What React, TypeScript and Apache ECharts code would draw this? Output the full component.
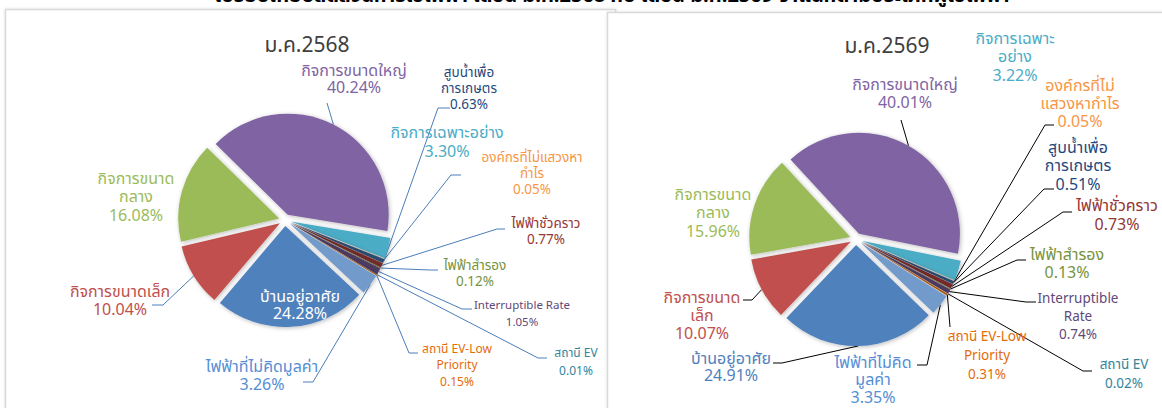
import React, { useEffect, useRef } from "react";
import * as echarts from "echarts";

// ---------- data ----------
const categories = [
  "บ้านอยู่อาศัย",
  "กิจการขนาดเล็ก",
  "กิจการขนาดกลาง",
  "กิจการขนาดใหญ่",
  "กิจการเฉพาะอย่าง",
  "องค์กรที่ไม่แสวงหากำไร",
  "สูบน้ำเพื่อการเกษตร",
  "ไฟฟ้าชั่วคราว",
  "ไฟฟ้าสำรอง",
  "Interruptible Rate",
  "สถานี EV",
  "สถานี EV-Low Priority",
  "ไฟฟ้าที่ไม่คิดมูลค่า",
];
const values2568 = [24.28, 10.04, 16.08, 40.24, 3.3, 0.05, 0.63, 0.77, 0.12, 1.05, 0.01, 0.15, 3.26];
const values2569 = [24.91, 10.07, 15.96, 40.01, 3.22, 0.05, 0.51, 0.73, 0.13, 0.74, 0.02, 0.31, 3.35];
const chartTitles = ["ม.ค.2568", "ม.ค.2569"];
const mainTitle = "เปรียบเทียบสัดส่วนการใช้ไฟฟ้า เดือน ม.ค.2568 กับ เดือน ม.ค.2569 จำแนกตามประเภทผู้ใช้ไฟฟ้า";

// ---------- styles / layout ----------
const FONT = "Tahoma, 'Noto Sans Thai', 'Noto Sans', sans-serif";
const sliceColors = ["#4F81BD", "#C0504D", "#9BBB59", "#8064A2", "#4BACC6", "#F79646", "#2C4D75", "#772C2A", "#5F7530", "#4D3B62", "#276A7C", "#B65708", "#729ACA"];
const labelColors = ["#4F81BD", "#C0504D", "#9BBB59", "#8064A2", "#4BACC6", "#F79646", "#1F497D", "#943634", "#77933C", "#5F497A", "#31859C", "#E46C0A", "#558ED5"];

// label text wrapping (display names) per chart
const wrap2568 = [
  "บ้านอยู่อาศัย", "กิจการขนาดเล็ก", "กิจการขนาด\nกลาง", "กิจการขนาดใหญ่", "กิจการเฉพาะอย่าง",
  "องค์กรที่ไม่แสวงหา\nกำไร", "สูบน้ำเพื่อ\nการเกษตร", "ไฟฟ้าชั่วคราว", "ไฟฟ้าสำรอง",
  "Interruptible Rate", "สถานี EV", "สถานี EV-Low\nPriority", "ไฟฟ้าที่ไม่คิดมูลค่า",
];
const wrap2569 = [
  "บ้านอยู่อาศัย", "กิจการขนาด\nเล็ก", "กิจการขนาด\nกลาง", "กิจการขนาดใหญ่", "กิจการเฉพาะ\nอย่าง",
  "องค์กรที่ไม่\nแสวงหากำไร", "สูบน้ำเพื่อ\nการเกษตร", "ไฟฟ้าชั่วคราว", "ไฟฟ้าสำรอง",
  "Interruptible\nRate", "สถานี EV", "สถานี EV-Low\nPriority", "ไฟฟ้าที่ไม่คิด\nมูลค่า",
];

type Lbl = { x: number; y: number; fs: number; lh: number; color?: string };

const layout2568: Lbl[] = [
  { x: 300, y: 305, fs: 16, lh: 17, color: "#FFFFFF" },
  { x: 120, y: 301, fs: 16, lh: 18 },
  { x: 136, y: 197, fs: 16, lh: 18.5 },
  { x: 354, y: 79, fs: 16, lh: 17 },
  { x: 447, y: 142, fs: 16, lh: 19 },
  { x: 532, y: 174, fs: 13.5, lh: 16 },
  { x: 469, y: 89, fs: 13.5, lh: 16 },
  { x: 546, y: 232, fs: 13.5, lh: 16 },
  { x: 475, y: 274, fs: 13.5, lh: 16.5 },
  { x: 522, y: 314, fs: 11.5, lh: 17 },
  { x: 576, y: 362, fs: 12, lh: 18 },
  { x: 457, y: 365, fs: 12, lh: 16.5 },
  { x: 262, y: 376, fs: 16, lh: 18 },
];
const lines2568: (number[][] | null)[] = [
  null, [[163, 305], [152, 305]], null, [[327, 103], [327, 103]], null,
  [[451, 175], [461, 175]], [[438, 108], [450, 108]], [[497, 229], [505, 229]], [[430, 270], [438, 270]],
  [[462, 309], [472, 309]], [[538, 358], [547, 358]], [[409, 353], [418, 353]], [[313, 382], [303, 382]],
];
const layout2569: Lbl[] = [
  { x: 731, y: 367, fs: 16, lh: 17 },
  { x: 702, y: 316, fs: 16, lh: 18 },
  { x: 713, y: 213, fs: 16, lh: 18.5 },
  { x: 905, y: 94, fs: 16, lh: 17.5 },
  { x: 1015, y: 57, fs: 16, lh: 18.5 },
  { x: 1080, y: 104, fs: 16, lh: 18 },
  { x: 1078, y: 166, fs: 16, lh: 18.5 },
  { x: 1117, y: 215, fs: 16, lh: 19 },
  { x: 1067, y: 264, fs: 16, lh: 18 },
  { x: 1078, y: 317, fs: 13.5, lh: 18 },
  { x: 1124, y: 374, fs: 13.5, lh: 19 },
  { x: 987, y: 356, fs: 13.5, lh: 19 },
  { x: 873, y: 380, fs: 16, lh: 17.5 },
];
const lines2569: (number[][] | null)[] = [
  [[782, 363], [773, 363]], [[752, 300], [743, 300]], null, [[901, 120], [901, 120]], null,
  [[1045, 125], [1054, 125]], [[1044, 189], [1054, 189]], [[1063, 212], [1072, 212]], [[1017, 260], [1026, 260]],
  [[1026, 302], [1036, 302]], [[1083, 371], [1092, 371]], [[950, 327], [950, 327]], [[927, 365], [917, 365]],
];

type PieCfg = {
  cx: number; cy: number; r: number; explode: number; startCW: number; lineColor: string;
  wrap: string[]; layout: Lbl[]; lines: (number[][] | null)[];
};

function buildPie(values: number[], cfg: PieCfg, idPrefix: string) {
  const total = values.reduce((a, b) => a + b, 0);
  let cum = 0;
  return values.map((v, k) => {
    const midCW = cfg.startCW + (360 * (cum + v / 2)) / total;
    cum += v;
    const rad = (midCW * Math.PI) / 180;
    const dx = Math.sin(rad);
    const dy = -Math.cos(rad);
    const center = [cfg.cx + cfg.explode * dx, cfg.cy + cfg.explode * dy];
    const edge = [cfg.cx + (cfg.r + cfg.explode) * dx, cfg.cy + (cfg.r + cfg.explode) * dy];
    const lbl = cfg.layout[k];
    const line = cfg.lines[k];
    return {
      id: idPrefix + k,
      type: "pie",
      center,
      radius: cfg.r,
      startAngle: 90 - cfg.startCW,
      clockwise: true,
      silent: true,
      avoidLabelOverlap: false,
      z: 2,
      data: values.map((val, i) => ({
        name: categories[i],
        value: val,
        itemStyle:
          i === k
            ? { color: sliceColors[i], shadowBlur: 4, shadowColor: "rgba(0,0,0,0.28)", shadowOffsetX: 1, shadowOffsetY: 1 }
            : { color: "rgba(0,0,0,0)" },
        label: {
          show: i === k,
          position: "outside",
          formatter: () => `${cfg.wrap[i]}\n${val.toFixed(2)}%`,
          color: lbl.color || labelColors[i],
          fontSize: lbl.fs,
          lineHeight: lbl.lh,
          fontFamily: FONT,
          align: "center",
        },
        labelLine: { show: i === k && !!line, lineStyle: { color: cfg.lineColor, width: 1 }, smooth: false },
      })),
      labelLayout: (p: any) =>
        p.dataIndex === k
          ? {
              x: lbl.x,
              y: lbl.y,
              align: "center",
              verticalAlign: "middle",
              labelLinePoints: line ? [edge, ...line] : undefined,
            }
          : {},
    };
  });
}

export default function App() {
  const ref = useRef<HTMLDivElement>(null);
  useEffect(() => {
    if (!ref.current) return;
    const chart = echarts.init(ref.current, null, { renderer: "svg" });
    const left = buildPie(values2568, { cx: 285, cy: 220, r: 101, explode: 6, startCW: 133, lineColor: "#4A7EBB", wrap: wrap2568, layout: layout2568, lines: lines2568 }, "a");
    const right = buildPie(values2569, { cx: 856, cy: 239, r: 101, explode: 6, startCW: 134, lineColor: "#000000", wrap: wrap2569, layout: layout2569, lines: lines2569 }, "b");
    chart.setOption({
      animation: false,
      backgroundColor: "#FFFFFF",
      graphic: [
        { type: "rect", z: 0, shape: { x: 5.5, y: 9.5, width: 610, height: 430 }, style: { fill: "#FFFFFF", stroke: "#D9D9D9", lineWidth: 1.5, shadowBlur: 2, shadowColor: "rgba(0,0,0,0.15)" } },
        { type: "rect", z: 0, shape: { x: 607.5, y: 12.5, width: 600, height: 430 }, style: { fill: "#FFFFFF", stroke: "#D9D9D9", lineWidth: 1.5, shadowBlur: 2, shadowColor: "rgba(0,0,0,0.15)" } },
        { type: "text", z: 1, x: 612, y: 6, style: { text: mainTitle, fontFamily: FONT, fontSize: 20, fontWeight: "bold", fill: "#000000", align: "center", verticalAlign: "bottom" } },
        { type: "text", z: 1, x: 307, y: 45, style: { text: chartTitles[0], fontFamily: FONT, fontSize: 21, fill: "#404040", align: "center", verticalAlign: "middle" } },
        { type: "text", z: 1, x: 887, y: 46, style: { text: chartTitles[1], fontFamily: FONT, fontSize: 21, fill: "#404040", align: "center", verticalAlign: "middle" } },
      ],
      series: [...left, ...right],
    });
    return () => chart.dispose();
  }, []);
  return <div ref={ref} style={{ position: "absolute", left: 0, top: 0, width: 1162, height: 408 }} />;
}
